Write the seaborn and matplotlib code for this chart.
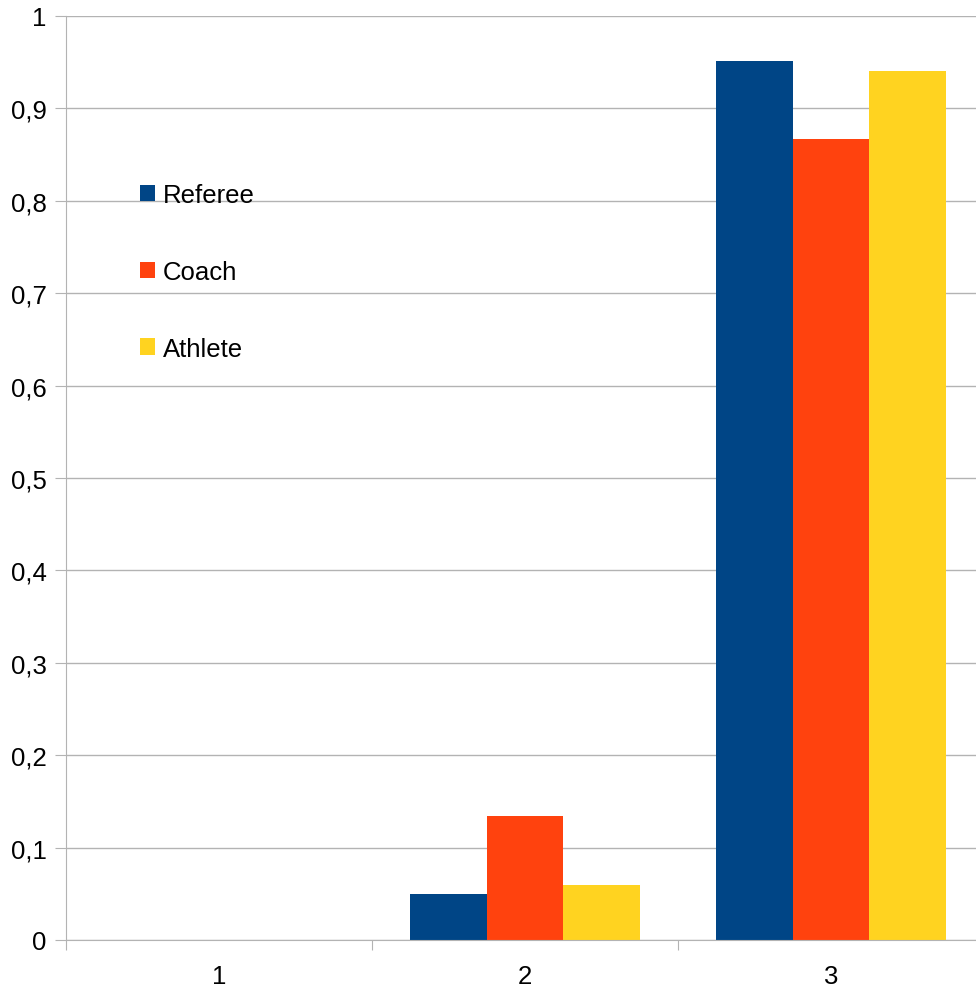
import matplotlib
matplotlib.use("Agg")
import matplotlib.pyplot as plt
import seaborn as sns
import pandas as pd
import numpy as np
from matplotlib.ticker import FixedLocator

categories = ["1", "2", "3"]
referee = [0.0, 0.0498, 0.9513]
coach = [0.0, 0.1342, 0.8669]
athlete = [0.0, 0.0595, 0.9405]
series_names = ["Referee", "Coach", "Athlete"]
colors = ["#004586", "#ff420e", "#ffd320"]
y_ticks = [0, 0.1, 0.2, 0.3, 0.4, 0.5, 0.6, 0.7, 0.8, 0.9, 1.0]
y_labels = ["0", "0,1", "0,2", "0,3", "0,4", "0,5", "0,6", "0,7", "0,8", "0,9", "1"]

rows = []
for name, vals in zip(series_names, [referee, coach, athlete]):
    for c, v in zip(categories, vals):
        rows.append({"cat": c, "series": name, "value": v})
df = pd.DataFrame(rows)

sns.set_style("white")
plt.rcParams["font.family"] = ["Liberation Sans", "DejaVu Sans"]
plt.rcParams["text.color"] = "black"
plt.rcParams["xtick.color"] = "black"
plt.rcParams["ytick.color"] = "black"
fs = 18.5

W, H = 976, 987
fig = plt.figure(figsize=(W / 100, H / 100), dpi=100)
ax = fig.add_axes([66 / W, (H - 941) / H, (984 - 66) / W, 924 / H])

sns.barplot(data=df, x="cat", y="value", hue="series", order=categories,
            hue_order=series_names, palette=colors, width=0.75, saturation=1,
            ax=ax, edgecolor="none", linewidth=0)

ax.set_xlim(-0.5, 2.5)
ax.set_ylim(0, 1)
ax.set_xlabel("")
ax.set_ylabel("")
ax.set_yticks(y_ticks)
ax.set_yticklabels(y_labels, fontsize=fs, color="black")
ax.yaxis.grid(True, color="#b3b3b3", linewidth=1)
ax.set_axisbelow(True)
ax.tick_params(axis="y", length=8, width=0.8, color="#b3b3b3", labelcolor="black", pad=6, left=True)

ax.set_xticks([0, 1, 2])
ax.set_xticklabels(categories, fontsize=fs, color="black")
ax.xaxis.set_minor_locator(FixedLocator([-0.5, 0.5, 1.5]))
ax.tick_params(axis="x", which="major", length=0, pad=17, labelcolor="black")
ax.tick_params(axis="x", which="minor", length=7.5, width=0.8, color="#b3b3b3", bottom=True)

for s in ["top", "right"]:
    ax.spines[s].set_visible(False)
for s in ["left", "bottom"]:
    ax.spines[s].set_color("#b3b3b3")
    ax.spines[s].set_linewidth(0.8)

handles, labels = ax.get_legend_handles_labels()
leg = ax.legend(handles, labels, loc="center left",
                bbox_to_anchor=(140 / W, 1 - 273 / H), bbox_transform=fig.transFigure,
                frameon=False, fontsize=fs, labelspacing=2.05, handlelength=0.6,
                handleheight=0.6, handletextpad=0.3, borderpad=0, borderaxespad=0)
for t in leg.get_texts():
    t.set_color("black")

fig.savefig("out.png", dpi=100)
